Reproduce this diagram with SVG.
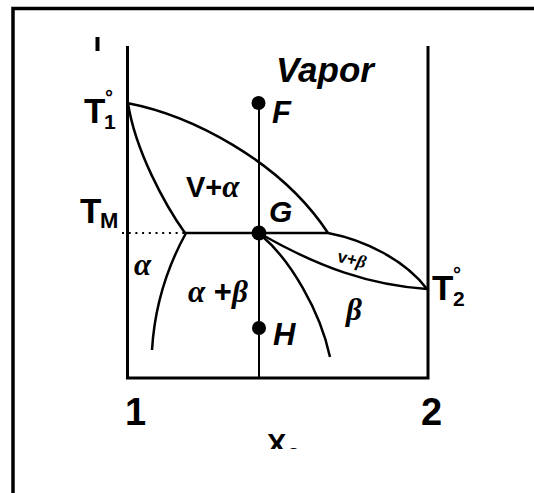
<svg xmlns="http://www.w3.org/2000/svg" width="534" height="493" viewBox="0 0 534 493">
<style>
.ax{fill:none;stroke:#000;stroke-width:3}
.cv{fill:none;stroke:#000;stroke-width:2.5}
.t{font-family:"Liberation Sans",Arial,sans-serif;font-weight:bold;fill:#000}
.i{font-style:italic}
.g{font-family:"Liberation Serif","Times New Roman",serif;font-style:italic;font-weight:bold;fill:#000}
</style>
<defs>
<clipPath id="cb"><rect x="0" y="0" width="534" height="449"/></clipPath>
</defs>
<rect x="13" y="8.5" width="540" height="500" fill="none" stroke="#000" stroke-width="3.5"/>
<g id="axes">
<path class="ax" d="M127.5,46 V378 H428 V46"/>
<line x1="97.5" y1="37" x2="97.5" y2="51" stroke="#000" stroke-width="4"/>
</g>
<g id="connectors">
<path class="cv" d="M127,103 C190,115 280,160 328,233"/>
<path class="cv" d="M128,103 C135,150 165,205 185,233"/>
<path class="cv" d="M186,233 C170,262 155,300 152,350"/>
<path class="cv" d="M185,233 H328"/>
<path class="cv" d="M259,233 C320,268 370,285 427,289"/>
<path class="cv" d="M328,233 C365,240 405,260 427,289"/>
<path class="cv" d="M262,236 C290,260 320,310 330,357"/>
<line x1="259" y1="103" x2="259" y2="378" stroke="#000" stroke-width="2"/>
<line x1="122" y1="233" x2="185" y2="233" stroke="#000" stroke-width="2" stroke-dasharray="2,4.7"/>
</g>
<g id="F"><circle cx="258.5" cy="103" r="7"/><text class="t i" x="272" y="123" font-size="31">F</text></g>
<g id="G"><circle cx="259" cy="233" r="7.5"/><text class="t i" x="269" y="222" font-size="30">G</text></g>
<g id="H"><circle cx="259" cy="328" r="7"/><text class="t i" x="273" y="345" font-size="31">H</text></g>
<g id="labels">
<text class="t i" x="276" y="82" font-size="35">Vapor</text>
<text class="t" x="84" y="123" font-size="35">T</text>
<text class="t" x="104" y="129" font-size="21">1</text>
<text class="t" x="105" y="104" font-size="20">°</text>
<text class="t" x="80" y="223" font-size="35">T</text>
<text class="t" x="100" y="228" font-size="22">M</text>
<text class="t" x="432" y="300" font-size="35">T</text>
<text class="t" x="453" y="306" font-size="21">2</text>
<text class="t" x="453" y="281" font-size="20">°</text>
<text class="t" x="186" y="197" font-size="29">V+<tspan class="g" font-size="31">α</tspan></text>
<text class="g" x="134" y="275" font-size="31">α</text>
<text class="g" x="188" y="302" font-size="31">α<tspan class="t" font-style="normal"> +</tspan>β</text>
<text class="g" x="346" y="320" font-size="31">β</text>
<text class="t" x="337" y="266" font-size="17" transform="rotate(14 355 262)">v+<tspan class="g" font-size="18">β</tspan></text>
<text class="t" x="125" y="425" font-size="38">1</text>
<text class="t" x="421" y="425" font-size="38">2</text>
<g clip-path="url(#cb)">
<text class="t" x="267" y="454" font-size="29">X</text>
<text class="t" x="288" y="462" font-size="20">2</text>
</g>
</g>
</svg>
